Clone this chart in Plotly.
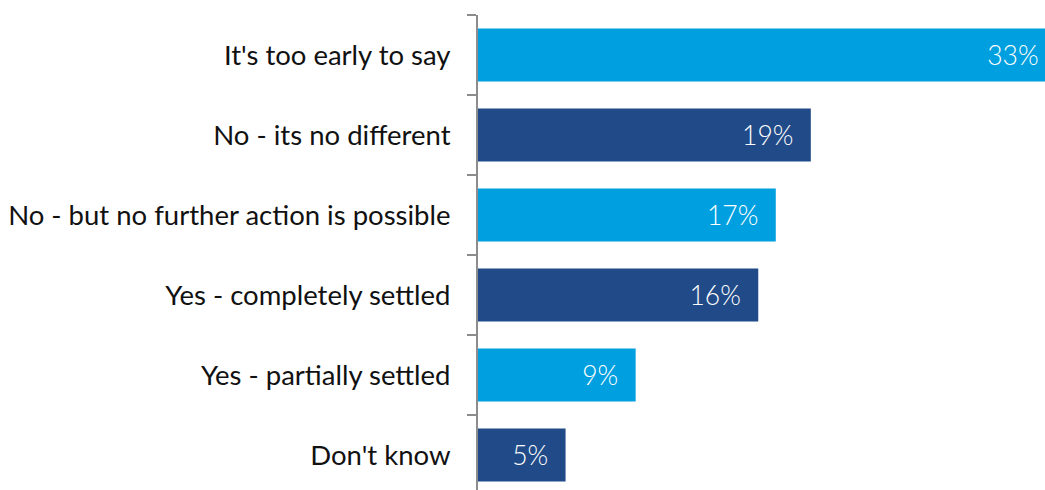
import plotly.graph_objects as go

# Survey responses, top to bottom
categories = [
    "It's too early to say",
    "No - its no different",
    "No - but no further action is possible",
    "Yes - completely settled",
    "Yes - partially settled",
    "Don't know",
]
values = [33, 19, 17, 16, 9, 5]

LIGHT = "#009FDF"
DARK = "#214A88"
colors = [LIGHT if i % 2 == 0 else DARK for i in range(len(categories))]

# trailing non-breaking spaces keep the value clear of the bar end
NB = "\u00a0"
labels = [f"{v}%" + NB * 2 for v in values]

fig = go.Figure(
    go.Bar(
        x=values,
        y=categories,
        orientation="h",
        marker=dict(color=colors, line=dict(width=0)),
        text=labels,
        textposition="inside",
        insidetextanchor="end",
        textangle=0,
        insidetextfont=dict(family="Lato", size=26.5, color="white", weight=300),
        hoverinfo="skip",
    )
)

fig.update_layout(
    width=1045,
    height=490,
    margin=dict(l=478, r=0, t=15, b=0),
    paper_bgcolor="white",
    plot_bgcolor="white",
    bargap=0.34,
    showlegend=False,
    font=dict(family="Lato", size=27.5, color="#111111"),
    uniformtext=dict(minsize=8, mode="show"),
)

fig.update_xaxes(
    range=[0, 32.37],
    visible=False,
    showgrid=False,
    zeroline=False,
)

fig.update_yaxes(
    type="category",
    categoryorder="array",
    categoryarray=categories,
    range=[5.4375, -0.5],
    showline=True,
    linecolor="#8c8c8c",
    linewidth=2,
    ticks="outside",
    tickson="boundaries",
    ticklen=9,
    tickwidth=2,
    tickcolor="#8c8c8c",
    showgrid=False,
    zeroline=False,
    ticklabelstandoff=20,
    tickfont=dict(family="Lato", size=27.5, color="#111111"),
)

fig.write_html("out.html")
